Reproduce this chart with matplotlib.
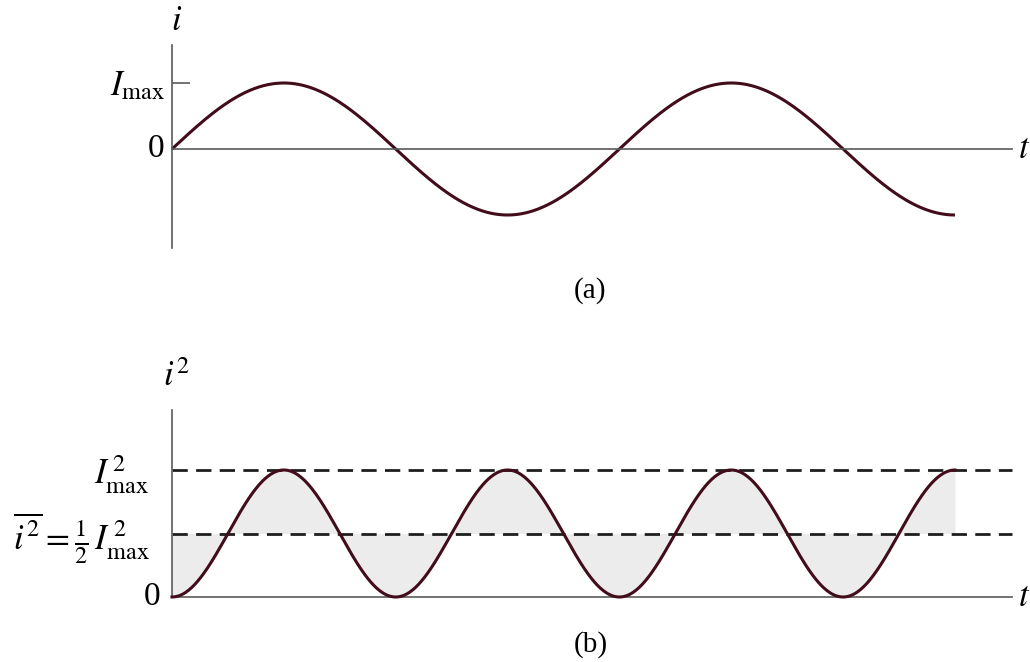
import numpy as np
import matplotlib
matplotlib.use("Agg")
import matplotlib.pyplot as plt

plt.rcParams['font.family'] = ['Liberation Serif', 'DejaVu Serif']
plt.rcParams['mathtext.fontset'] = 'stix'
plt.rcParams['lines.scale_dashes'] = False

# waveform parameters (time in periods, current in units of I_max)
period = 1.0
t_end = 1.75
i_max = 1.0
i_sq_levels = [1.0, 0.5]          # I_max^2 and the mean of i^2
axis_end = 1.877

curve_color = '#420c1a'
axis_color = '#5a5a5a'

t = np.linspace(0, t_end, 800)
i = i_max * np.sin(2 * np.pi * t / period)
i_sq = i ** 2

fig = plt.figure(figsize=(10.30, 6.62), dpi=100)
W, H = 1030, 662

# px -> data scales
px_per_t = 447.4
x0 = 172
xlim = (-x0 / px_per_t, (W - x0) / px_per_t)

# ---- (a) current
top_h = 310
ax_a = fig.add_axes([0, (H - top_h) / H, 1, top_h / H])
ya0, ya_amp = 149, 66
ax_a.set_xlim(*xlim)
ax_a.set_ylim((ya0 - top_h) / ya_amp, ya0 / ya_amp)

# ---- (b) current squared
ax_b = fig.add_axes([0, 0, 1, (H - top_h) / H])
yb0, yb_amp = 597, 127
ax_b.set_xlim(*xlim)
ax_b.set_ylim((yb0 - H) / yb_amp, (yb0 - top_h) / yb_amp)

for ax in (ax_a, ax_b):
    ax.set_facecolor('none')
    for s in ('top', 'right'):
        ax.spines[s].set_visible(False)
    ax.spines['left'].set_position(('data', 0))
    ax.spines['bottom'].set_position(('data', 0))
    for s in ('left', 'bottom'):
        ax.spines[s].set_color(axis_color)
        ax.spines[s].set_linewidth(1.2)
    ax.spines['bottom'].set_bounds(0, axis_end)
    ax.set_xticks([])

ax_a.spines['left'].set_bounds((ya0 - 248) / ya_amp, (ya0 - 45) / ya_amp)
ax_b.spines['left'].set_bounds(0, (yb0 - 410) / yb_amp)

# I_max tick on the current axis
ax_a.set_yticks([i_max])
ax_a.set_yticklabels([''])
ax_a.tick_params(axis='y', direction='in', length=13, width=1.2, color=axis_color)
ax_b.set_yticks([])

ax_a.plot(t, i, color=curve_color, lw=2.2, solid_capstyle='butt')

# shaded area between i^2 and its mean
ax_b.fill_between(t, i_sq, i_sq_levels[1], color='#ececec', lw=0, zorder=1)
ax_b.hlines(i_sq_levels, 0, axis_end, colors='#1e1e1e', lw=2.0,
            linestyles=[(0, (11, 6))], zorder=2)
ax_b.plot(t, i_sq, color=curve_color, lw=2.2, zorder=3)

fs = 25
# labels, panel (a)
ax_a.text(0.01, (ya0 - 22) / ya_amp, '$i$', fontsize=fs, ha='center', va='center')
ax_a.text(-0.015, i_max - 0.05, r'$I_{\rm max}$', fontsize=fs, ha='right', va='center')
ax_a.text(-0.018, 0, '0', fontsize=24, ha='right', va='center')
ax_a.text(1.89, 0, '$t$', fontsize=fs, ha='left', va='center')
ax_a.text(0.935, (ya0 - 291) / ya_amp, '(a)', fontsize=21, ha='center', va='center')

# labels, panel (b)
ax_b.text(0.01, (yb0 - 378) / yb_amp, '$i^2$', fontsize=fs, ha='center', va='center')
ax_b.text(-0.05, i_sq_levels[0] - 0.04, r'$I^{\,2}_{\rm max}$', fontsize=fs,
          ha='right', va='center')
ax_b.text(-0.05, i_sq_levels[1] - 0.04,
          r'$\overline{i^2} = \frac{1}{2}\,I^{\,2}_{\rm max}$', fontsize=fs,
          ha='right', va='center')
ax_b.text(-0.025, 0, '0', fontsize=24, ha='right', va='center')
ax_b.text(1.89, 0, '$t$', fontsize=fs, ha='left', va='center')
ax_b.text(0.935, (yb0 - 645) / yb_amp, '(b)', fontsize=21, ha='center', va='center')

fig.savefig('out.png', dpi=100, facecolor='white')
